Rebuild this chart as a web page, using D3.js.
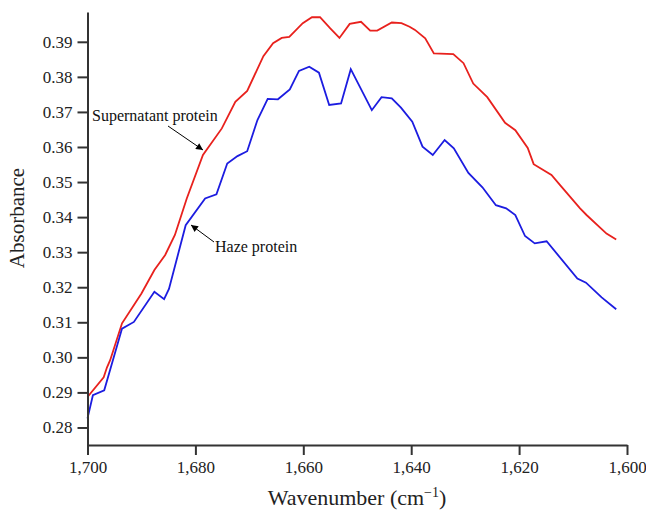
<!DOCTYPE html>
<html>
<head>
<meta charset="utf-8">
<script src="https://cdn.jsdelivr.net/npm/d3@7"></script>
<style>
  body { margin: 0; background: #fff; }
  svg { display: block; }
  .axis text { font-family: "Liberation Serif", "Times New Roman", serif; font-size: 17px; fill: #222; }
  .axis path, .axis line { stroke: #333; stroke-width: 2; }
</style>
</head>
<body>
<script>
// wavenumber (cm-1) / absorbance
var hazeWave = [1700.0, 1699.0, 1696.9, 1693.6, 1691.4, 1687.6, 1685.8, 1684.9, 1681.8, 1678.2,
  1676.1, 1674.1, 1672.2, 1670.4, 1668.5, 1666.6, 1664.7, 1662.5, 1660.8, 1658.9,
  1657.1, 1655.2, 1653.0, 1651.2, 1647.3, 1645.5, 1643.6, 1641.9, 1639.8, 1637.9,
  1636.0, 1633.8, 1632.1, 1629.4, 1626.8, 1624.3, 1622.4, 1620.7, 1618.9, 1617.1,
  1614.9, 1609.2, 1607.6, 1604.7, 1602.0];
var hazeAbs = [0.2826, 0.2892, 0.2906, 0.3082, 0.3101, 0.3187, 0.3166, 0.3195, 0.3377, 0.3453,
  0.3465, 0.3553, 0.3574, 0.3588, 0.3677, 0.3737, 0.3736, 0.3764, 0.3817, 0.3829,
  0.3812, 0.3720, 0.3724, 0.3822, 0.3705, 0.3742, 0.3739, 0.3712, 0.3672, 0.3601,
  0.3577, 0.3620, 0.3596, 0.3526, 0.3485, 0.3434, 0.3425, 0.3406, 0.3346, 0.3325,
  0.3331, 0.3225, 0.3213, 0.3171, 0.3137];

var superWave = [1700.0, 1697.0, 1696.4, 1695.8, 1693.6, 1690.0, 1687.6, 1685.6, 1683.8, 1681.6,
  1678.6, 1675.1, 1672.6, 1670.4, 1667.4, 1665.6, 1664.0, 1662.6, 1660.1, 1658.4,
  1656.9, 1655.0, 1653.3, 1651.4, 1649.3, 1647.6, 1646.3, 1643.6, 1641.8, 1640.3,
  1639.3, 1637.4, 1635.8, 1632.2, 1630.3, 1628.5, 1625.9, 1622.6, 1620.7, 1618.4,
  1617.3, 1614.0, 1612.4, 1608.7, 1607.5, 1603.8, 1602.0];
var superAbs = [0.2887, 0.2943, 0.2971, 0.2992, 0.3097, 0.3182, 0.3249, 0.3292, 0.3349, 0.3453,
  0.3577, 0.3653, 0.3729, 0.3760, 0.3859, 0.3896, 0.3911, 0.3914, 0.3953, 0.3970,
  0.3970, 0.3938, 0.3911, 0.3951, 0.3957, 0.3932, 0.3932, 0.3955, 0.3953, 0.3943,
  0.3934, 0.3910, 0.3867, 0.3865, 0.3839, 0.3781, 0.3742, 0.3669, 0.3648, 0.3597,
  0.3551, 0.3520, 0.3491, 0.3425, 0.3406, 0.3353, 0.3336];

var xTicks = [1700, 1680, 1660, 1640, 1620, 1600];
var yTicks = [0.28, 0.29, 0.30, 0.31, 0.32, 0.33, 0.34, 0.35, 0.36, 0.37, 0.38, 0.39];

var width = 646, height = 512;
var serif = '"Liberation Serif", "Times New Roman", serif';

var svg = d3.select("body").append("svg")
    .attr("width", width)
    .attr("height", height);

var x = d3.scaleLinear().domain([1700, 1600]).range([87.5, 627]);
var y = d3.scaleLinear().domain([0.275, 0.3985]).range([445, 12]);

svg.append("defs").append("marker")
    .attr("id", "arrow")
    .attr("viewBox", "0 0 10 10")
    .attr("refX", 10).attr("refY", 5)
    .attr("markerWidth", 9).attr("markerHeight", 7)
    .attr("markerUnits", "userSpaceOnUse")
    .attr("orient", "auto")
  .append("path")
    .attr("d", "M0,0L10,5L0,10z")
    .attr("fill", "#000");

var line = d3.line()
    .x(function(d) { return x(d[0]); })
    .y(function(d) { return y(d[1]); });

svg.append("path")
    .datum(d3.zip(superWave, superAbs))
    .attr("fill", "none")
    .attr("stroke", "#e8211d")
    .attr("stroke-width", 1.8)
    .attr("d", line);

svg.append("path")
    .datum(d3.zip(hazeWave, hazeAbs))
    .attr("fill", "none")
    .attr("stroke", "#1c1ce0")
    .attr("stroke-width", 1.8)
    .attr("d", line);

svg.append("g")
    .attr("class", "axis")
    .attr("transform", "translate(0,445)")
    .call(d3.axisBottom(x).tickValues(xTicks).tickFormat(d3.format(",.0f")).tickSize(10).tickSizeOuter(0).tickPadding(6));

svg.append("g")
    .attr("class", "axis")
    .attr("transform", "translate(87.5,0)")
    .call(d3.axisLeft(y).tickValues(yTicks).tickFormat(d3.format(".2f")).tickSize(10).tickSizeOuter(0).tickPadding(5));

// axis titles
svg.append("text")
    .attr("transform", "translate(24,218) rotate(-90)")
    .attr("text-anchor", "middle")
    .style("font-family", serif)
    .style("font-size", "21px")
    .attr("fill", "#222")
    .text("Absorbance");

var xt = svg.append("text")
    .attr("x", 357).attr("y", 505)
    .attr("text-anchor", "middle")
    .style("font-family", serif)
    .style("font-size", "22px")
    .attr("fill", "#222");
xt.append("tspan").text("Wavenumber (cm");
xt.append("tspan").attr("dy", -8).style("font-size", "14px").text("\u22121");
xt.append("tspan").attr("dy", 8).text(")");

// annotations
svg.append("text")
    .attr("x", 92).attr("y", 121)
    .style("font-family", serif)
    .style("font-size", "16px")
    .attr("fill", "#111")
    .text("Supernatant protein");

svg.append("line")
    .attr("x1", 168).attr("y1", 126)
    .attr("x2", 203).attr("y2", 150)
    .attr("stroke", "#000").attr("stroke-width", 1)
    .attr("marker-end", "url(#arrow)");

svg.append("text")
    .attr("x", 215).attr("y", 252)
    .style("font-family", serif)
    .style("font-size", "16px")
    .attr("fill", "#111")
    .text("Haze protein");

svg.append("line")
    .attr("x1", 214).attr("y1", 242)
    .attr("x2", 191).attr("y2", 225)
    .attr("stroke", "#000").attr("stroke-width", 1)
    .attr("marker-end", "url(#arrow)");
</script>
</body>
</html>
